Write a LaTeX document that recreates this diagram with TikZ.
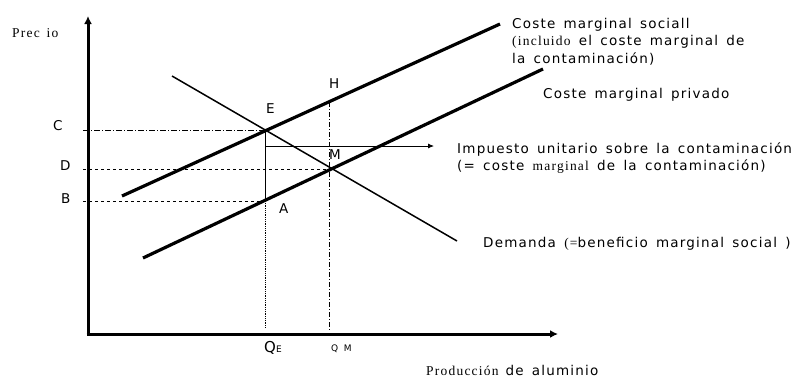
\documentclass[tikz,border=0pt]{standalone}
\usepackage{fontspec}
\setmainfont{DejaVu Sans}[LetterSpace=9, WordSpace=1.5]
\newfontfamily\timesfont{Liberation Serif}[LetterSpace=9, WordSpace=1.5]
\usetikzlibrary{arrows.meta}
\begin{document}
\begin{tikzpicture}[
	x=1pt, y=-1pt,
	axis/.style={line width=3pt, -{Latex[length=8pt,width=8pt]}},
	curve/.style={line width=3.2pt},
	demand/.style={line width=1.5pt},
	guide/.style={line width=0.8pt},
	lbl/.style={font=\fontsize{13.5}{17}\selectfont, inner sep=0pt, anchor=base west},
	txt/.style={font=\fontsize{13.5}{17.5}\selectfont, inner sep=0pt, anchor=north west, align=left}
	]
	\useasboundingbox (0,0) rectangle (801,381);
	\coordinate (O) at (88,334);
	\coordinate (ytop) at (88,16);
	\coordinate (xend) at (558,334);
	\coordinate (s1) at (122,196);
	\coordinate (s2) at (500,24);
	\coordinate (p1) at (143,258);
	\coordinate (p2) at (543,69);
	\coordinate (d1) at (172,76);
	\coordinate (d2) at (457,241);
	\coordinate (E) at (265,130);
	\coordinate (A) at (265,201);
	\coordinate (M) at (329,169);
	\coordinate (H) at (329,102);
	\coordinate (T) at (265,146);
	\coordinate (Tend) at (434,146);
	\coordinate (qe) at (265,328);
	\coordinate (qm) at (329,331);

	\draw[guide, dash pattern=on 6pt off 2pt on 1pt off 2pt] (O |- E) ++(-5,0) -- (E);
	\draw[guide, dashed] (O |- M) ++(-5,0) -- (M);
	\draw[guide, dashed] (O |- A) ++(-5,0) -- (A);
	\draw[guide] (E) -- (A);
	\draw[guide, densely dotted] (A) -- (qe);
	\draw[guide, dash pattern=on 5pt off 2pt on 1pt off 2pt] (H) -- (qm);
	\draw[guide, -{Latex[length=6pt,width=5pt]}] (T) -- (Tend);

	\draw[curve] (s1) -- (s2);
	\draw[curve] (p1) -- (p2);
	\draw[demand] (d1) -- (d2);

	\draw[axis] (O) -- (ytop);
	\draw[axis] ([xshift=-1.5pt]O) -- (xend);

	\node[lbl] (precio) at (12,37) {\timesfont Prec io};
	\node[lbl] (C) at (53,130) {C};
	\node[lbl] (D) at (60,170) {D};
	\node[lbl] (B) at (61,203) {B};
	\node[lbl] (Elbl) at (266,113) {E};
	\node[lbl] (Hlbl) at (329,88) {H};
	\node[lbl] (Mlbl) at (329,159) {M};
	\node[lbl] (Albl) at (279,213) {A};
	\node[lbl] (QE) at (264,352) {\fontsize{15}{15}\selectfont Q{\fontsize{9}{9}\selectfont E}};
	\node[lbl, font=\fontsize{9}{9}\selectfont] (QM) at (331,351) {Q M};
	\node[txt] (social) at (512,18) {Coste marginal sociall\\{\timesfont(incluido} el coste marginal de\\la contaminación)};
	\node[lbl] (privado) at (543,98) {Coste marginal privado};
	\node[txt] (impuesto) at (457,142) {Impuesto unitario sobre la contaminación\\(= coste {\timesfont marginal} de la contaminación)};
	\node[lbl] (demanda) at (483,247) {Demanda {\timesfont(=}beneficio marginal social )};
	\node[lbl] (produccion) at (426,375) {\timesfont Producción {\rmfamily de aluminio}};
\end{tikzpicture}
\end{document}
